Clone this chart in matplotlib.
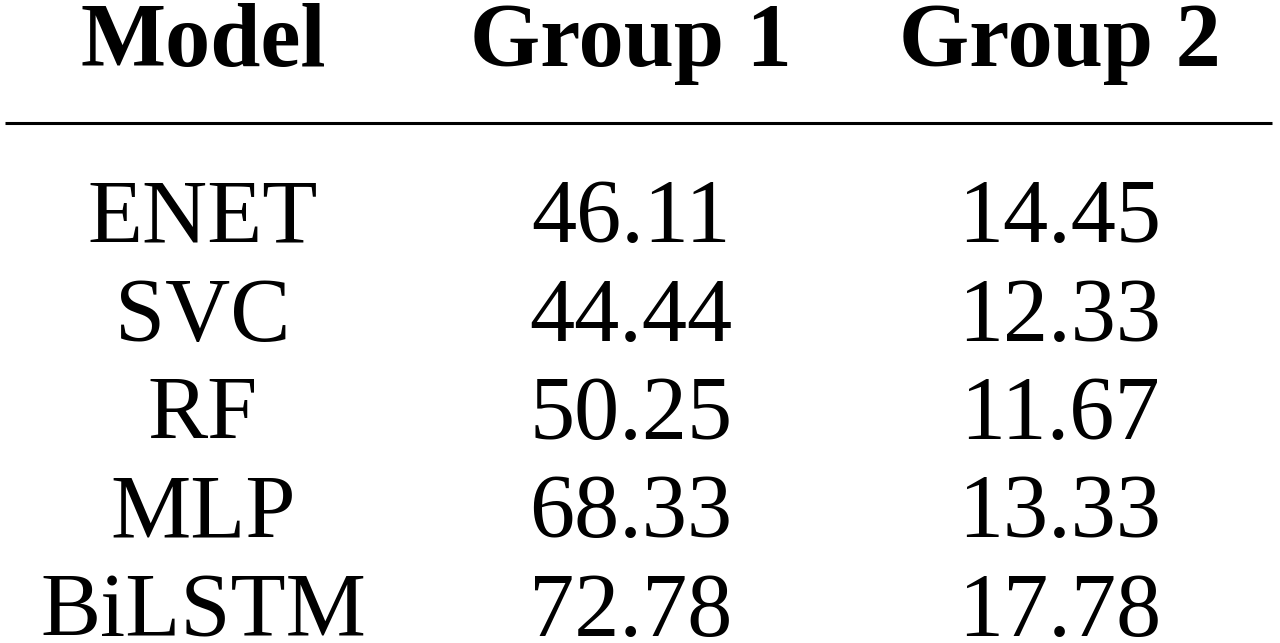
import matplotlib.pyplot as plt

# Table contents
header = ['Model', 'Group 1', 'Group 2']
models = ['ENET', 'SVC', 'RF', 'MLP', 'BiLSTM']
group1 = ['46.11', '44.44', '50.25', '68.33', '72.78']
group2 = ['14.45', '12.33', '11.67', '13.33', '17.78']

W, H = 1280, 643
fig = plt.figure(figsize=(W / 100, H / 100), dpi=100)
ax = fig.add_axes([0, 0, 1, 1])
ax.set_xlim(0, W)
ax.set_ylim(H, 0)  # pixel-like coords, y down
ax.axis('off')

col_x = [203, 631, 1060]  # column centres
font = dict(family='Liberation Serif', fontsize=65, ha='center', va='baseline', color='black')

#Header
for x, h in zip(col_x, header):
    ax.text(x, 66, h, fontweight='bold', **font)

#Rule under header
ax.hlines(123, 5, 1272, color='black', lw=2.2)

#Body rows
row_y0, row_step = 242, 98.5
for i, row in enumerate(zip(models, group1, group2)):
    y = row_y0 + i * row_step
    for x, cell in zip(col_x, row):
        ax.text(x, y, cell, **font)

fig.savefig('out.png', dpi=100, facecolor='white')
